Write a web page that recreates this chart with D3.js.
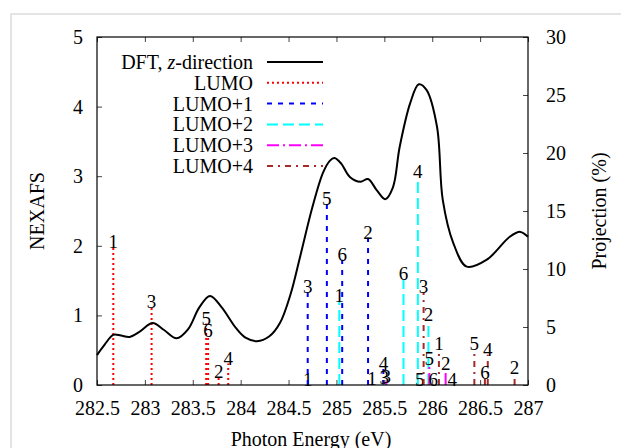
<!DOCTYPE html>
<html lang="en">
<head>
<meta charset="UTF-8">
<title>NEXAFS</title>
<script src="https://d3js.org/d3.v7.min.js"></script>
<style>
  body { margin: 0; background: #fff; }
  text { font-family: "Liberation Serif", "DejaVu Serif", serif; fill: #000; }
</style>
</head>
<body>
<svg width="621" height="448"></svg>
<script>
// DFT curve, z-direction (photon energy in eV, NEXAFS)
var dftE = [282.5, 282.58, 282.67, 282.75, 282.84, 282.95, 283.08, 283.2, 283.33, 283.45, 283.57, 283.68, 283.8, 283.95, 284.05, 284.17,
            284.3, 284.41, 284.52, 284.62, 284.75, 284.86, 284.93, 284.98, 285.05, 285.14, 285.25, 285.33, 285.42, 285.51, 285.59,
            285.66, 285.77, 285.86, 285.94, 286.05, 286.11, 286.22, 286.36, 286.57, 286.81, 286.92, 287.0];
var dftY = [0.43, 0.58, 0.72, 0.71, 0.69, 0.77, 0.89, 0.79, 0.67, 0.80, 1.12, 1.28, 1.12, 0.82, 0.68, 0.63,
            0.70, 0.89, 1.30, 1.84, 2.56, 3.05, 3.22, 3.26, 3.18, 2.99, 2.92, 2.96, 2.80, 2.67, 2.84,
            3.42, 4.05, 4.32, 4.24, 3.71, 2.66, 2.04, 1.70, 1.80, 2.13, 2.20, 2.13];

// orbital projections (%), one stick per label 1..6
var stickLabels = ["1", "2", "3", "4", "5", "6"];
var lumoE  = [282.67, 283.77, 283.07, 283.87, 283.64, 283.66];
var lumoP  = [11.9, 0.7, 6.7, 1.85, 5.3, 4.2];
var lumo1E = [284.70, 285.33, 284.70, 285.49, 284.90, 285.06];
var lumo1P = [0.0, 12.7, 8.0, 1.4, 15.6, 10.8];
var lumo2E = [285.03, 285.96, 285.50, 285.85, 285.87, 285.70];
var lumo2P = [7.2, 5.6, 0.2, 17.9, 0.0, 9.1];
var lumo3E = [285.37, 286.14, 285.52, 286.21, 285.97, 286.01];
var lumo3P = [0.1, 1.4, 0.3, 0.0, 1.8, 0.0];
var lumo4E = [286.07, 286.86, 285.91, 286.58, 286.44, 286.55];
var lumo4P = [3.1, 1.0, 8.0, 2.6, 3.1, 0.6];

var xTicks = [282.5, 283, 283.5, 284, 284.5, 285, 285.5, 286, 286.5, 287];
var yTicks = [0, 1, 2, 3, 4, 5];
var y2Ticks = [0, 5, 10, 15, 20, 25, 30];

var series = [
    {name: "LUMO",   e: lumoE,  p: lumoP,  color: "#ff0000", dash: "2,3"},
    {name: "LUMO+1", e: lumo1E, p: lumo1P, color: "#0000ff", dash: "5,6"},
    {name: "LUMO+2", e: lumo2E, p: lumo2P, color: "#00ffff", dash: "11,5"},
    {name: "LUMO+3", e: lumo3E, p: lumo3P, color: "#ff00ff", dash: "12,4,2,4"},
    {name: "LUMO+4", e: lumo4E, p: lumo4P, color: "#a52a2a", dash: "6,5,2,5"}
];

var svg = d3.select("svg");
var pL = 97, pR = 528, pT = 37, pB = 385;

// outer frame
svg.append("rect").attr("x", 11).attr("y", 14).attr("width", 640).attr("height", 460)
    .attr("fill", "none").attr("stroke", "#dcdcdc").attr("stroke-width", 1.5);

var x = d3.scaleLinear().domain([282.5, 287]).range([pL, pR]);
var y = d3.scaleLinear().domain([0, 5]).range([pB, pT]);
var y2 = d3.scaleLinear().domain([0, 30]).range([pB, pT]);

// axes, ticks pointing inward
var gx = svg.append("g").attr("transform", "translate(0," + pB + ")")
    .call(d3.axisBottom(x).tickValues(xTicks).tickSize(-5).tickPadding(16).tickFormat(d3.format("")));
var gxt = svg.append("g").attr("transform", "translate(0," + pT + ")")
    .call(d3.axisTop(x).tickValues(xTicks).tickSize(-5).tickFormat(""));
var gy = svg.append("g").attr("transform", "translate(" + pL + ",0)")
    .call(d3.axisLeft(y).tickValues(yTicks).tickSize(-5).tickPadding(14).tickFormat(d3.format("d")));
var gy2 = svg.append("g").attr("transform", "translate(" + pR + ",0)")
    .call(d3.axisRight(y2).tickValues(y2Ticks).tickSize(-5).tickPadding(18).tickFormat(d3.format("d")));

[gx, gxt, gy, gy2].forEach(function (g) {
    g.select(".domain").remove();
    g.selectAll(".tick line").attr("stroke", "#444");
    g.selectAll("text").attr("font-size", 20).attr("font-family", "Liberation Serif");
});

// sticks
series.forEach(function (s) {
    var g = svg.append("g");
    s.e.forEach(function (e, i) {
        g.append("line")
            .attr("x1", x(e)).attr("x2", x(e))
            .attr("y1", y2(0)).attr("y2", y2(s.p[i]))
            .attr("stroke", s.color).attr("stroke-width", 2)
            .attr("stroke-dasharray", s.dash);
        g.append("text")
            .attr("x", x(e)).attr("y", y2(s.p[i]) + 1)
            .attr("text-anchor", "middle").attr("font-size", 19)
            .text(stickLabels[i]);
    });
});

// DFT curve
var pts = dftE.map(function (e, i) { return [e, dftY[i]]; });
var line = d3.line()
    .x(function (d) { return x(d[0]); })
    .y(function (d) { return y(d[1]); })
    .curve(d3.curveCatmullRom.alpha(0.5));
svg.append("path").attr("d", line(pts))
    .attr("fill", "none").attr("stroke", "#000").attr("stroke-width", 2);

// plot border
svg.append("rect").attr("x", pL).attr("y", pT)
    .attr("width", pR - pL).attr("height", pB - pT)
    .attr("fill", "none").attr("stroke", "#000").attr("stroke-width", 1.2);

// legend
var legend = [{name: "DFT, ", ital: "z", rest: "-direction", color: "#000", dash: null}].concat(series);
legend.forEach(function (d, i) {
    var ly = 62 + i * 20.8;
    var t = svg.append("text").attr("x", 253).attr("y", ly + 7)
        .attr("text-anchor", "end").attr("font-size", 20);
    if (d.ital) {
        t.append("tspan").text(d.name);
        t.append("tspan").attr("font-style", "italic").text(d.ital);
        t.append("tspan").text(d.rest);
    } else {
        t.text(d.name);
    }
    svg.append("line").attr("x1", 267).attr("x2", 323).attr("y1", ly).attr("y2", ly)
        .attr("stroke", d.color).attr("stroke-width", 2)
        .attr("stroke-dasharray", d.dash);
});

// axis titles
svg.append("text").attr("transform", "translate(44,211) rotate(-90)")
    .attr("text-anchor", "middle").attr("font-size", 20).text("NEXAFS");
svg.append("text").attr("transform", "translate(606,211) rotate(-90)")
    .attr("text-anchor", "middle").attr("font-size", 20).text("Projection (%)");
svg.append("text").attr("x", 311).attr("y", 446)
    .attr("text-anchor", "middle").attr("font-size", 20).text("Photon Energy (eV)");
</script>
</body>
</html>
